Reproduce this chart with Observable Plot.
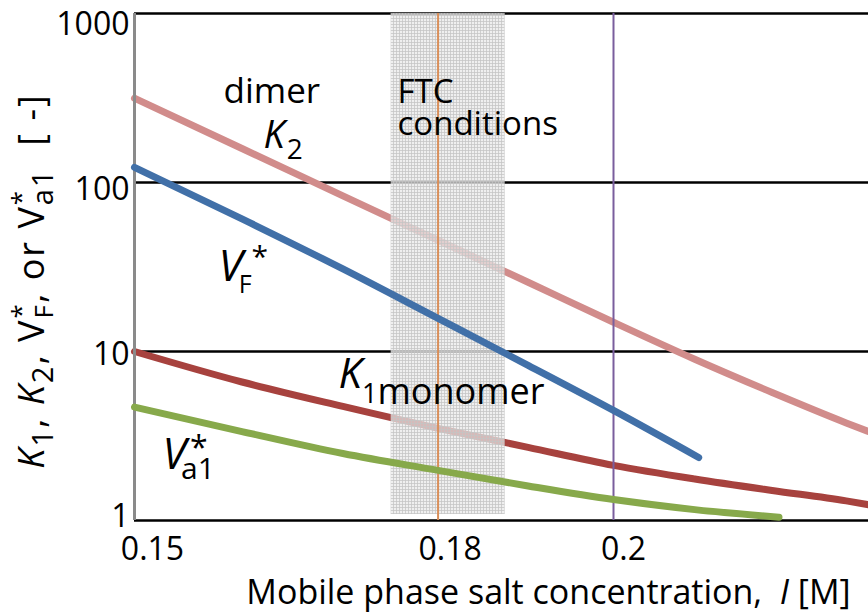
<!DOCTYPE html>
<html>
<head>
<meta charset="utf-8">
<script src="https://cdn.jsdelivr.net/npm/d3@7"></script>
<script src="https://cdn.jsdelivr.net/npm/@observablehq/plot@0.6"></script>
<style>
  body { margin: 0; background: #fff; }
  svg text { white-space: pre; }
</style>
</head>
<body>
<div id="chart"></div>
<script>
// Mobile phase salt concentration I (M) and the retention parameters along it
const saltI     = [0.15, 0.16, 0.17, 0.18, 0.19, 0.20, 0.21, 0.22, 0.23, 0.2331];
const dimerK2   = [315, 159, 83.3, 45.5, 25.7, 14.9, 9.0, 5.72, 3.78, 3.36];
const monomerK1 = [10.0, 6.6, 4.73, 3.51, 2.71, 2.12, 1.76, 1.505, 1.306, 1.24];

const vfI    = [0.15, 0.16, 0.17, 0.18, 0.19, 0.20, 0.2105];
const vfStar = [123, 60.9, 30.8, 15.7, 8.28, 4.48, 2.36];

const va1I    = [0.15, 0.16, 0.17, 0.18, 0.19, 0.20, 0.21, 0.2209];
const va1Star = [4.69, 3.36, 2.49, 1.98, 1.60, 1.33, 1.16, 1.046];

// Axes
const xDomain = [0.15, 0.2331];
const xTicks = [0.15, 0.18, 0.2];
const xTickLabels = ["0.15", "0.18", "0.2"];
const yDomain = [1, 1000];
const yTicks = [1, 10, 100, 1000];

// FTC operating window and reference concentrations
const ftcBand = [{from: 0.175, to: 0.1874, low: 1.085, high: 1000}];
const ftcLine = [0.18];
const refLine = [0.2];

// In-plot labels, anchored at their left baseline (I, value)
const annotations = [
  {key: "dimer", I: 0.15824, v: 297},
  {key: "K2", I: 0.16208, v: 161},
  {key: "FTC", I: 0.17567, v: 297},
  {key: "conditions", I: 0.17567, v: 190},
  {key: "VF", I: 0.15776, v: 26.3},
  {key: "Va1", I: 0.15254, v: 2.03},
  {key: "K1", I: 0.16955, v: 6.12}
];

const xTitle = "Mobile phase salt concentration,  I [M]";
const yTitle = "K1, K2, VF*, or Va1*  [ -]";

// Rich-text runs for labels with italics, subscripts and superscripts
const runs = {
  dimer: [{t: "dimer", size: 35}],
  K2: [{t: "K", size: 38, italic: true}, {t: "2", size: 28, shift: 11, dx: 2}],
  FTC: [{t: "FTC", size: 33}],
  conditions: [{t: "conditions", size: 33}],
  VF: [{t: "V", size: 44, italic: true}, {t: "F", size: 25, shift: 12, dx: -4}, {t: "*", size: 30, shift: -14}],
  Va1: [{t: "V", size: 43, italic: true}, {t: "a1", size: 30, shift: 10, dx: -5}, {t: "*", size: 32, shift: -10, stack: true, dx: 9}],
  K1: [{t: "K", size: 42, italic: true}, {t: "1", size: 27, shift: 15}, {t: "monomer", size: 36, shift: 16}],
  xTitle: [{t: "Mobile phase salt concentration,  "}, {t: "I", italic: true}, {t: " [M]"}],
  yTitle: [
    {t: "K", italic: true}, {t: "1", size: 29, shift: 9}, {t: ", "},
    {t: "K", italic: true}, {t: "2", size: 29, shift: 9}, {t: ", "},
    {t: "V"}, {t: "*", size: 26, shift: -14}, {t: "F", size: 26, shift: 9, stack: true}, {t: ", or "},
    {t: "V"}, {t: "*", size: 26, shift: -14}, {t: "a1", size: 29, shift: 9, stack: true}, {t: "  [ -]"}
  ]
};

const series = (xs, ys) => xs.map((I, i) => ({I, v: ys[i]}));

const xTickNudge = [18, 12, 10];
const yTickNudge = [-4, 3, 7, 11];

const chart = Plot.plot({
  width: 868,
  height: 614,
  marginLeft: 134,
  marginRight: 0,
  marginTop: 13,
  marginBottom: 94,
  x: {type: "log", domain: xDomain},
  y: {type: "log", domain: yDomain},
  style: {fontFamily: "'Open Sans', sans-serif", background: "#fff", color: "#000", overflow: "visible"},
  marks: [
    Plot.ruleY(yTicks, {stroke: "#000", strokeWidth: 2.5}),
    Plot.line(series(saltI, dimerK2), {x: "I", y: "v", stroke: "#d18c8b", strokeWidth: 7, curve: "monotone-x"}),
    Plot.line(series(saltI, monomerK1), {x: "I", y: "v", stroke: "#a7423e", strokeWidth: 7, curve: "monotone-x"}),
    Plot.rect(ftcBand, {x1: "from", x2: "to", y1: "low", y2: "high", fill: "url(#ftc-grid)"}),
    Plot.ruleX(ftcLine, {stroke: "#d98f5a", strokeWidth: 2}),
    Plot.ruleX(refLine, {stroke: "#7a5e9d", strokeWidth: 2}),
    Plot.ruleX([xDomain[0]], {stroke: "#8a8a8a", strokeWidth: 3}),
    Plot.line(series(vfI, vfStar), {x: "I", y: "v", stroke: "#4170a8", strokeWidth: 7, curve: "monotone-x", strokeLinecap: "round"}),
    Plot.line(series(va1I, va1Star), {x: "I", y: "v", stroke: "#87a94b", strokeWidth: 7, curve: "monotone-x", strokeLinecap: "round"}),
    ...xTicks.map((t, i) => Plot.axisX([t], {
      tickSize: 0, tickPadding: 17, dx: xTickNudge[i], fontSize: 32, label: null,
      tickFormat: (d) => xTickLabels[xTicks.indexOf(d)]
    })),
    ...yTicks.map((t, i) => Plot.axisY([t], {
      tickSize: 0, tickPadding: 5, dy: yTickNudge[i], fontSize: 32, label: null,
      tickFormat: (d) => String(d)
    })),
    Plot.text(annotations, {x: "I", y: "v", text: "key", textAnchor: "start", lineAnchor: "bottom", fill: "#000"}),
    Plot.text([xTitle], {frameAnchor: "bottom", dx: 47, dy: 83, textAnchor: "start", lineAnchor: "bottom", fill: "#000", fontSize: 34}),
    Plot.text([yTitle], {frameAnchor: "left", rotate: -90, dx: -91, dy: 14, textAnchor: "start", lineAnchor: "bottom", fill: "#000", fontSize: 36})
  ]
});

document.getElementById("chart").appendChild(chart);

// Grid texture for the FTC band
const svg = d3.select(chart);
const pat = svg.insert("defs", ":first-child").append("pattern")
  .attr("id", "ftc-grid").attr("width", 3).attr("height", 3)
  .attr("patternUnits", "userSpaceOnUse");
pat.append("rect").attr("width", 3).attr("height", 3).attr("fill", "#e9e9e9").attr("fill-opacity", 0.72);
pat.append("path").attr("d", "M0 0.5H3M0.5 0V3").attr("stroke", "#c4c4c4").attr("stroke-width", 1).attr("stroke-opacity", 0.75);

function setRich(node, segs) {
  const sel = d3.select(node);
  sel.text(null);
  let base = 0;
  let prevWidth = 0;
  for (const s of segs) {
    const shift = s.shift || 0;
    const ts = sel.append("tspan").text(s.t);
    if (shift !== base) ts.attr("dy", shift - base);
    base = shift;
    if (s.size) ts.attr("font-size", s.size);
    if (s.italic) ts.attr("font-style", "italic");
    let dx = s.dx || 0;
    if (s.stack) dx -= prevWidth;
    if (dx) ts.attr("dx", dx);
    prevWidth = ts.node().getComputedTextLength();
  }
}

// Center a start-anchored text on its anchor point
function centerText(node) {
  const box = node.getBBox();
  node.setAttribute("x", -(box.x + box.width / 2));
}

// Text marks in order: annotations, x title, y title
const textGroups = svg.selectAll('g[aria-label="text"]').nodes();
d3.select(textGroups[0]).selectAll("text").each(function (d, i) {
  setRich(this, runs[annotations[i].key]);
});
d3.select(textGroups[1]).selectAll("text").each(function () {
  setRich(this, runs.xTitle);
  centerText(this);
});
d3.select(textGroups[2]).selectAll("text").each(function () {
  this.setAttribute("letter-spacing", 2);
  setRich(this, runs.yTitle);
  centerText(this);
});
</script>
</body>
</html>
